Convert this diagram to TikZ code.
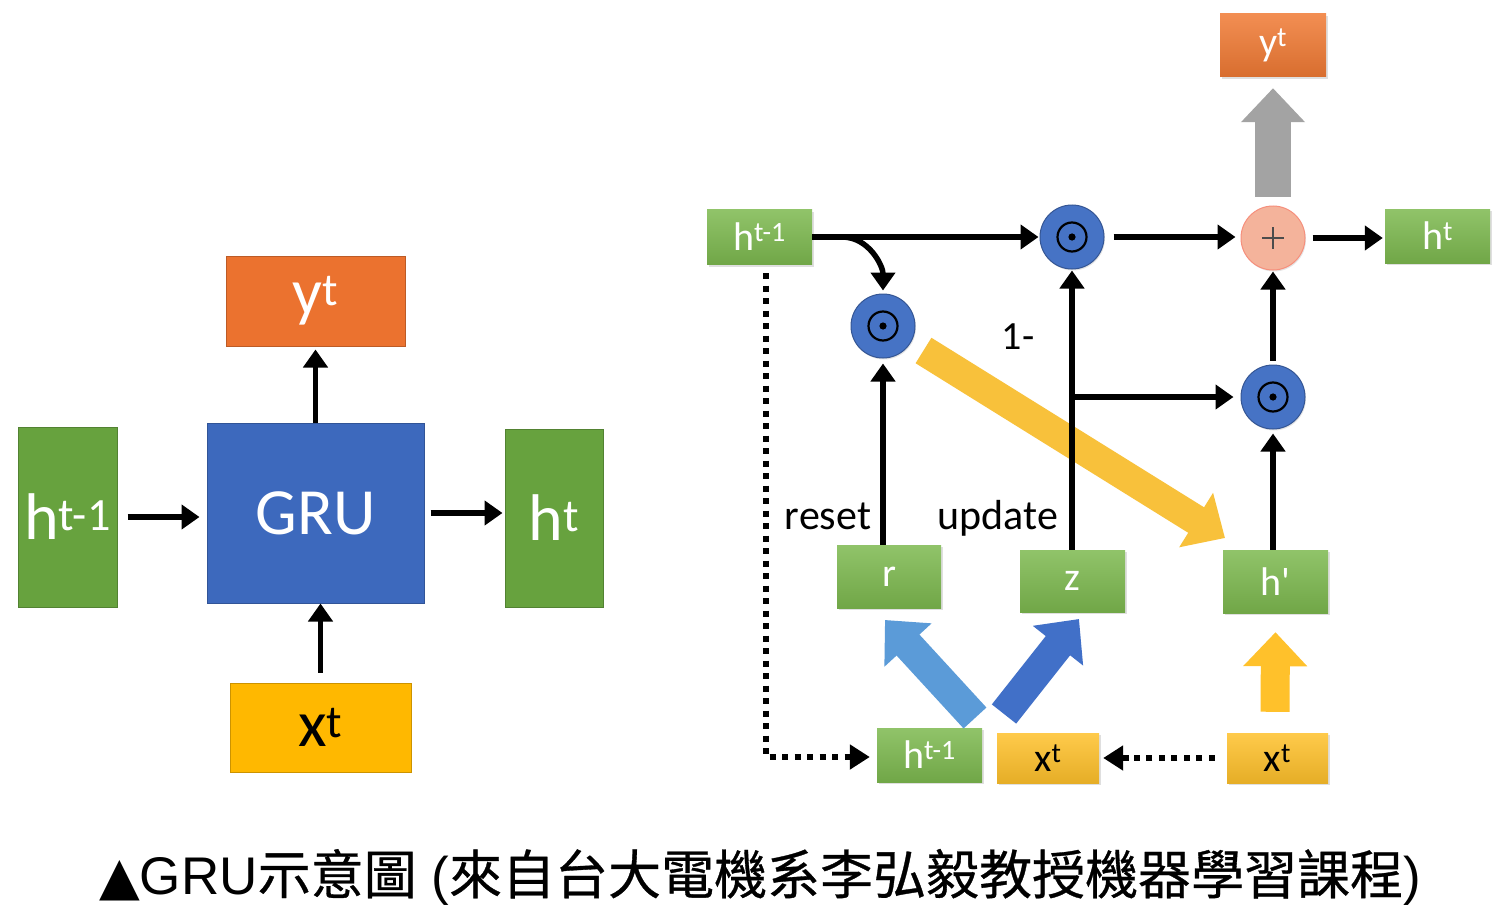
\documentclass[tikz,border=0pt]{standalone}
\usepackage{fontspec}
\setmainfont{Carlito}
\newfontfamily\cjkfont[FakeBold=0.6]{Noto Sans CJK TC}
\newfontfamily\capfont{Liberation Sans}
\newfontfamily\symbfont{DejaVu Sans}
\usetikzlibrary{arrows.meta,shadows,calc}
\definecolor{gGreen}{HTML}{67A23E}
\definecolor{gGreenL}{HTML}{7DB94F}
\definecolor{gBlue}{HTML}{3D69BD}
\definecolor{gOrange}{HTML}{EB722F}
\definecolor{gOrangeR}{HTML}{F07A34}
\definecolor{gYellow}{HTML}{FFB800}
\definecolor{gYellowR}{HTML}{FFC12B}
\definecolor{gOdot}{HTML}{4673C5}
\definecolor{gPlus}{HTML}{F4B39B}
\definecolor{gGray}{HTML}{A3A3A3}
\definecolor{gDiag}{HTML}{F8C13B}
\definecolor{gBlueL}{HTML}{5B9BD8}
\definecolor{gBlueD}{HTML}{4170C8}
\begin{document}
\begin{tikzpicture}[x=1pt,y=-1pt,
  lbox/.style={draw=#1!80!black, fill=#1, line width=1pt, inner sep=0pt, text=white,
    font=\fontsize{66}{70}\selectfont},
  rbox/.style={inner sep=0pt, minimum width=105pt, minimum height=55pt,
    top color=#1!85!white, bottom color=#1!90!black, text=white,
    font=\fontsize{40}{44}\selectfont,
    drop shadow={opacity=0.25,shadow xshift=1.5pt,shadow yshift=-2pt}},
  odot/.style={circle, fill=gOdot, draw=gOdot!75!black, line width=1pt, minimum size=64pt,
    inner sep=0pt, drop shadow={opacity=0.2,shadow xshift=1pt,shadow yshift=-1.5pt}},
  arr/.style={line width=5.5pt, -{Triangle[length=18pt,width=24pt]}},
  dotline/.style={line width=6pt, dash pattern=on 6pt off 6.5pt},
  dottip/.style={-{Triangle[length=20pt,width=24pt]}},
  fat/.style={line width=#1, -{Triangle[length=34pt,width=62pt]}},
  lbl/.style={font=\fontsize{42}{44}\selectfont, inner sep=0pt}
]
\useasboundingbox (0,0) rectangle (1507,923);
\fill[white] (0,0) rectangle (1507,923);

% ---------- left diagram ----------
\node[lbox=gGreen, minimum width=99pt, minimum height=180pt] (hL1) at (67.5,517) {h\textsuperscript{t-1}};
\node[lbox=gBlue, minimum width=217pt, minimum height=180pt] (gru) at (315.5,513) {GRU};
\node[lbox=gGreen, minimum width=98pt, minimum height=178pt] (hLt) at (554,518) {h\textsuperscript{t}};
\node[lbox=gOrange, minimum width=179pt, minimum height=90pt] (yL) at (315.5,301) {y\textsuperscript{t}};
\node[lbox=gYellow, text=black, minimum width=181pt, minimum height=89pt] (xL) at (320.5,727.5) {x\textsuperscript{t}};

\draw[arr, shorten <=10pt, shorten >=7pt] (hL1.east) -- (hL1.east -| gru.west);
\draw[arr, shorten <=6pt, shorten >=2pt] (gru.east) -- (gru.east -| hLt.west);
\draw[arr, shorten >=3pt] (gru.north) -- (gru.north |- yL.south);
\draw[arr, shorten <=10pt] (xL.north) -- (xL.north |- gru.south);

% ---------- right diagram ----------
\node[rbox=gGreenL] (hA) at (759.5,237) {h\textsuperscript{t-1}};
\node[odot] (od1) at (1072,237) {};
\node[circle, fill=gPlus, draw=gPlus!80!red, line width=1pt, minimum size=64pt, inner sep=0pt,
  drop shadow={opacity=0.2,shadow xshift=1pt,shadow yshift=-1.5pt}] (plus) at (1273,238) {};
\node[rbox=gGreenL, minimum height=54pt] (hR) at (1437.5,236) {h\textsuperscript{t}};
\node[rbox=gOrangeR, minimum width=106pt, minimum height=63pt] (yR) at (1273,45.5) {y\textsuperscript{t}};
\node[odot] (od2) at (883,326) {};
\node[odot] (od3) at (1273,397) {};
\node[rbox=gGreenL, minimum width=104pt, minimum height=63pt] (rB) at (889,576.5) {r};
\node[rbox=gGreenL, minimum height=62pt] (zB) at (1072.5,581) {z};
\node[rbox=gGreenL, minimum height=63pt] (hp) at (1275.5,581.5) {h\textquotesingle};
\node[rbox=gGreenL, minimum height=54pt] (hB) at (929.5,755) {h\textsuperscript{t-1}};
\node[rbox=gYellowR, text=black, minimum width=102pt, minimum height=50pt] (xM) at (1048,758) {x\textsuperscript{t}};
\node[rbox=gYellowR, text=black, minimum width=101pt, minimum height=50pt] (xR) at (1277.5,758) {x\textsuperscript{t}};

\foreach \n in {od1,od2,od3}{
  \draw[line width=2.2pt] (\n) circle (14.5);
  \fill (\n) circle (3.6);
}
\draw[line width=1.3pt, black!70] ($(plus)+(-11,0)$) -- ($(plus)+(11,0)$);
\draw[line width=1.3pt, black!70] ($(plus)+(0,-11)$) -- ($(plus)+(0,11)$);

\node[lbl] (lreset) at (828,516) {reset};
\node[lbl] (lupdate) at (998,518) {update};
\node[lbl, font=\fontsize{40}{44}\selectfont] (lone) at (1018,337) {1-};

% fat arrows
\coordinate (yd1) at (923.5,350.5);
\coordinate (yd2) at (1225,538);
\draw[fat=30pt, gDiag] (yd1) -- (yd2);
\draw[fat=36pt, gGray] ([yshift=9pt]plus.north) -- ([yshift=-11pt]yR.south);
\draw[fat=29pt, gYellowR] ([xshift=-2.5pt,yshift=21pt]xR.north) -- ([yshift=-19pt]hp.south);
\coordinate (bl1) at (975,718);
\coordinate (bl2) at (885,620);
\coordinate (bd1) at (1004,714);
\coordinate (bd2) at (1079,619);
\draw[fat=31pt, gBlueL] (bl1) -- (bl2);
\draw[fat=31pt, gBlueD] (bd1) -- (bd2);

% black arrows
\draw[arr, shorten >=1pt] (hA.east) -- (od1.west);
\coordinate (cv) at (842,237);
\draw[arr, shorten >=3pt] (cv) to[out=0,in=90] (od2.north);
\draw[arr, shorten <=9pt, shorten >=5pt] (od1.east) -- (od1.east -| plus.west);
\draw[arr, shorten <=7pt, shorten >=2pt] (plus.east) -- (plus.east -| hR.west);
\draw[arr, shorten <=4pt, shorten >=1pt] (od3.north) -- (plus.south);
\draw[arr, shorten >=4pt] (od3.south |- hp.north) -- (od3.south);
\draw[arr, shorten >=1pt] (od1.south |- zB.north) -- (od1.south);
\coordinate (br) at (1072,397);
\draw[arr, shorten >=7pt] (br) -- (od3.west);
\draw[arr, shorten >=5pt] (od2.south |- rB.north) -- (od2.south);

% dotted connectors
\coordinate (dtop) at (766,273);
\coordinate (dcorner) at (766,757);
\draw[dotline] (dtop) -- (dcorner) -- ([xshift=-20pt]hB.west |- dcorner);
\draw[dottip, line width=6pt, shorten >=7pt] ([xshift=-22pt]hB.west |- dcorner) -- (hB.west |- dcorner);
\draw[dotline] ([xshift=-12pt]xR.west) -- ([xshift=30pt]xM.east);
\draw[dottip, line width=6pt, shorten >=4pt] ([xshift=30pt]xM.east) -- (xM.east);

% caption
\node[inner sep=0pt, font=\fontsize{53}{57}\selectfont] (cap) at (760,877)
  {{\symbfont ▲}{\capfont GRU}{\cjkfont 示意圖}{\capfont\ (}{\cjkfont 來自台大電機系李弘毅教授機器學習課程}{\capfont )}};
\end{tikzpicture}
\end{document}
